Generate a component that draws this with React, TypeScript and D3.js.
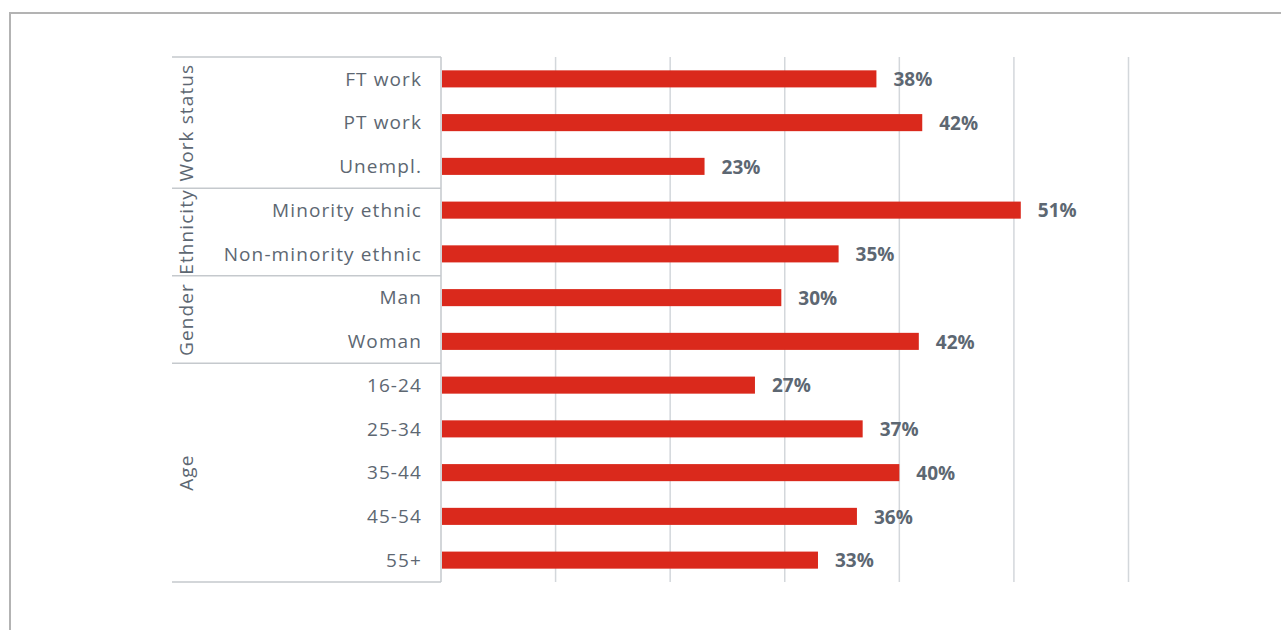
import React from "react";
import * as d3 from "d3";

const categories = ["FT work", "PT work", "Unempl.", "Minority ethnic", "Non-minority ethnic", "Man", "Woman", "16-24", "25-34", "35-44", "45-54", "55+"];
const values = [38, 42, 23, 50.6, 34.7, 29.7, 41.7, 27.4, 36.8, 40, 36.3, 32.9];
const valueLabels = ["38%", "42%", "23%", "51%", "35%", "30%", "42%", "27%", "37%", "40%", "36%", "33%"];
const groupNames = ["Work status", "Ethnicity", "Gender", "Age"];
const groupSizes = [3, 2, 2, 5];
const xTicks = [0, 10, 20, 30, 40, 50, 60];

const W = 1281;
const H = 630;
const plotLeft = 441;
const plotRight = 1128.5;
const plotTop = 57;
const plotBottom = 582;
const labelLeft = 172;
const FONT = "'Century Gothic', 'URW Gothic', 'Open Sans', sans-serif";
const TEXT = "#5d6772";

export default function App() {
  const x = d3.scaleLinear().domain([0, 60]).range([plotLeft, plotRight]);
  const y = d3.scaleBand<string>().domain(categories).range([plotTop, plotBottom]).paddingInner(0.61).paddingOuter(0.305);
  const rowH = (plotBottom - plotTop) / categories.length;

  const bounds: number[] = [0];
  groupSizes.forEach((s) => bounds.push(bounds[bounds.length - 1] + s));

  return (
    <svg width={W} height={H} style={{ position: "absolute", left: 0, top: 0, background: "#fff" }}>
      <rect x={10} y={13} width={W + 20} height={H + 20} fill="#fff" stroke="#b3b3b3" strokeWidth={2} />
      {xTicks.slice(1).map((t) => (
        <line key={t} x1={x(t)} x2={x(t)} y1={plotTop} y2={plotBottom} stroke="#d3d7db" strokeWidth={1.5} />
      ))}
      <line x1={plotLeft} x2={plotLeft} y1={plotTop} y2={plotBottom} stroke="#c5c9cd" strokeWidth={1.5} />
      {bounds.map((b, i) => (
        <line key={i} x1={labelLeft} x2={plotLeft} y1={plotTop + b * rowH} y2={plotTop + b * rowH} stroke="#c5c9cd" strokeWidth={1.5} />
      ))}
      {groupNames.map((g, i) => {
        const cy = plotTop + ((bounds[i] + bounds[i + 1]) / 2) * rowH;
        return (
          <text key={g} transform={`translate(193,${cy}) rotate(-90)`} textAnchor="middle" fontFamily={FONT} fontSize={19} letterSpacing={1.1} fill={TEXT}>
            {g}
          </text>
        );
      })}
      {categories.map((c, i) => (
        <g key={c}>
          <text x={422} y={(y(c) as number) + y.bandwidth() / 2} dy="0.35em" textAnchor="end" fontFamily={FONT} fontSize={19} letterSpacing={1.1} fill={TEXT}>
            {c}
          </text>
          <rect x={x(0) + 1} y={y(c)} width={x(values[i]) - x(0) - 1} height={y.bandwidth()} fill="#da291c" />
          <text x={x(values[i]) + 17} y={(y(c) as number) + y.bandwidth() / 2} dy="0.38em" fontFamily={FONT} fontSize={19} fontWeight="bold" fill={TEXT}>
            {valueLabels[i]}
          </text>
        </g>
      ))}
    </svg>
  );
}
